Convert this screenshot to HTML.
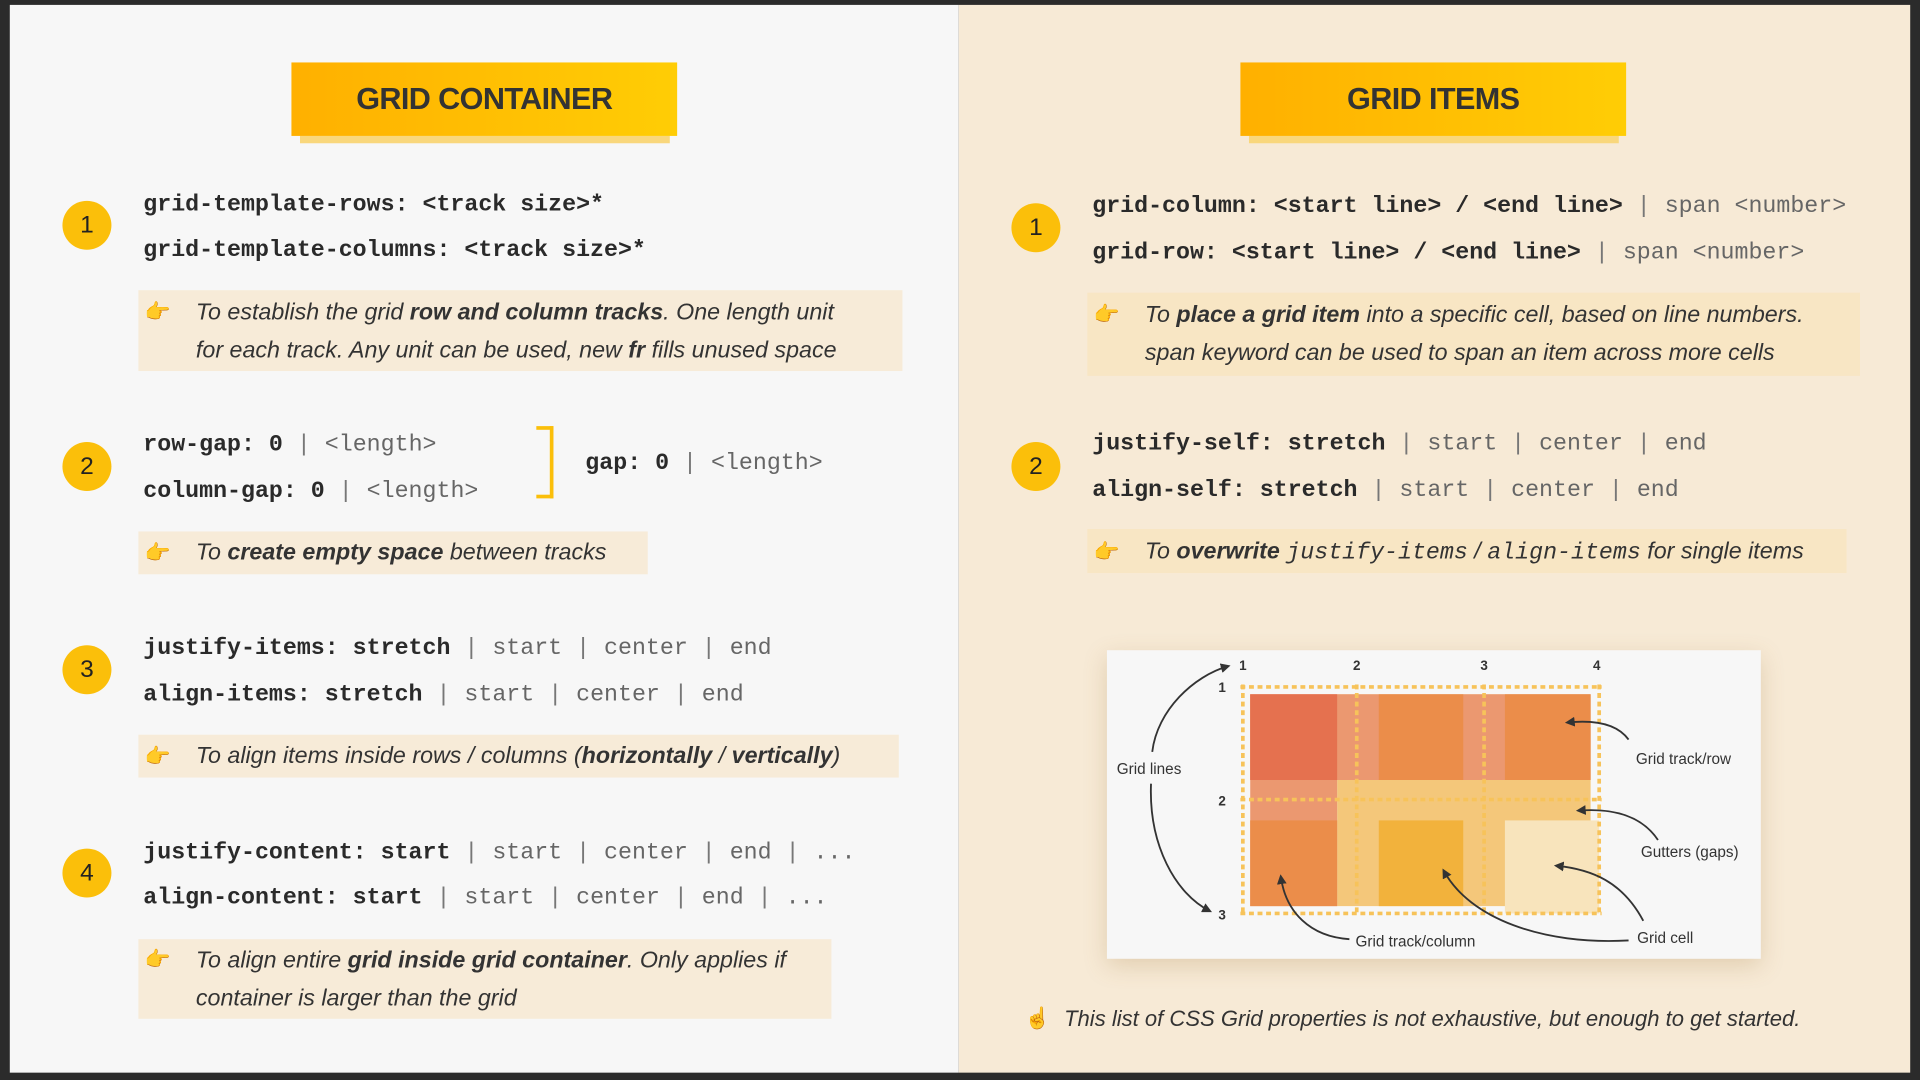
<!DOCTYPE html>
<html><head><meta charset="utf-8"><style>
*{margin:0;padding:0;box-sizing:border-box}
html,body{width:1920px;height:1080px;overflow:hidden;background:#2b2b2b}
#s{position:absolute;left:0;top:0;width:1568px;height:882px;transform:scale(1.22449);transform-origin:0 0;background:#2b2b2b}
.a{position:absolute;white-space:nowrap}
.lp{left:8px;top:4px;width:775px;height:872px;background:#f7f7f7}
.rp{left:783px;top:4px;width:777px;height:872px;background:#f7ead6}
.title{height:60px;width:315px;background:linear-gradient(90deg,#ffb000,#ffcd05);font:bold 25px/60px "Liberation Sans",sans-serif;color:#333;text-align:center;letter-spacing:-0.5px}
.tsh{height:6px;width:302px;background:#f9d77c}
.c{width:40px;height:40px;border-radius:50%;background:#fbbf0a;font:20px/40px "Liberation Sans",sans-serif;color:#222;text-align:center}
.code{font:19px/22px "Liberation Mono",monospace;color:#333}
.code b{font-weight:bold;color:#2a2a2a}
.code i{font-style:normal;color:#666}
.code u{text-decoration:none;color:#777}
.note{background:#f7ebd8}
.rn{background:#f8e6c4}
.nt{font:italic 19px/31px "Liberation Sans",sans-serif;color:#333}
.nt b{font-weight:bold}
.nt tt{font:italic 19px "Liberation Mono",monospace}
.h{font-size:17px;line-height:22px}
</style></head><body><div id="s">
<div class="a lp"></div><div class="a rp"></div>

<div class="a tsh" style="left:245px;top:111px"></div>
<div class="a title" style="left:238px;top:51px">GRID CONTAINER</div>
<div class="a tsh" style="left:1020px;top:111px"></div>
<div class="a title" style="left:1013px;top:51px">GRID ITEMS</div>

<div class="a c" style="left:51px;top:164px">1</div>
<div class="a code" style="left:117px;top:156px"><b>grid-template-rows: &lt;track size&gt;*</b></div>
<div class="a code" style="left:117px;top:193px"><b>grid-template-columns: &lt;track size&gt;*</b></div>
<div class="a note" style="left:113px;top:237px;width:624px;height:66px"></div>
<div class="a h" style="left:118px;top:244px">👉</div>
<div class="a nt" style="left:160px;top:240px">To establish the grid <b>row and column tracks</b>. One length unit<br>for each track. Any unit can be used, new <b>fr</b> fills unused space</div>

<div class="a c" style="left:51px;top:361px">2</div>
<div class="a code" style="left:117px;top:352px"><b>row-gap: 0</b> <u>|</u> <i>&lt;length&gt;</i></div>
<div class="a code" style="left:117px;top:390px"><b>column-gap: 0</b> <u>|</u> <i>&lt;length&gt;</i></div>
<div class="a" style="left:438px;top:348px;width:14px;height:59px;border:3px solid #fbbf0a;border-left:none"></div>
<div class="a code" style="left:478px;top:367px"><b>gap: 0</b> <u>|</u> <i>&lt;length&gt;</i></div>
<div class="a note" style="left:113px;top:434px;width:416px;height:35px"></div>
<div class="a h" style="left:118px;top:441px">👉</div>
<div class="a nt" style="left:160px;top:436px">To <b>create empty space</b> between tracks</div>

<div class="a c" style="left:51px;top:527px">3</div>
<div class="a code" style="left:117px;top:518px"><b>justify-items: stretch</b> <u>|</u> <i>start</i> <u>|</u> <i>center</i> <u>|</u> <i>end</i></div>
<div class="a code" style="left:117px;top:556px"><b>align-items: stretch</b> <u>|</u> <i>start</i> <u>|</u> <i>center</i> <u>|</u> <i>end</i></div>
<div class="a note" style="left:113px;top:600px;width:621px;height:35px"></div>
<div class="a h" style="left:118px;top:607px">👉</div>
<div class="a nt" style="left:160px;top:602px">To align items inside rows / columns (<b>horizontally</b> / <b>vertically</b>)</div>

<div class="a c" style="left:51px;top:693px">4</div>
<div class="a code" style="left:117px;top:685px"><b>justify-content: start</b> <u>|</u> <i>start</i> <u>|</u> <i>center</i> <u>|</u> <i>end</i> <u>|</u> <i>...</i></div>
<div class="a code" style="left:117px;top:722px"><b>align-content: start</b> <u>|</u> <i>start</i> <u>|</u> <i>center</i> <u>|</u> <i>end</i> <u>|</u> <i>...</i></div>
<div class="a note" style="left:113px;top:767px;width:566px;height:65px"></div>
<div class="a h" style="left:118px;top:773px">👉</div>
<div class="a nt" style="left:160px;top:769px">To align entire <b>grid inside grid container</b>. Only applies if<br>container is larger than the grid</div>

<div class="a c" style="left:826px;top:166px">1</div>
<div class="a code" style="left:892px;top:157px"><b>grid-column: &lt;start line&gt; / &lt;end line&gt;</b> <u>|</u> <i>span &lt;number&gt;</i></div>
<div class="a code" style="left:892px;top:195px"><b>grid-row: &lt;start line&gt; / &lt;end line&gt;</b> <u>|</u> <i>span &lt;number&gt;</i></div>
<div class="a rn" style="left:888px;top:239px;width:631px;height:68px"></div>
<div class="a h" style="left:893px;top:246px">👉</div>
<div class="a nt" style="left:935px;top:242px">To <b>place a grid item</b> into a specific cell, based on line numbers.<br>span keyword can be used to span an item across more cells</div>

<div class="a c" style="left:826px;top:361px">2</div>
<div class="a code" style="left:892px;top:351px"><b>justify-self: stretch</b> <u>|</u> <i>start</i> <u>|</u> <i>center</i> <u>|</u> <i>end</i></div>
<div class="a code" style="left:892px;top:389px"><b>align-self: stretch</b> <u>|</u> <i>start</i> <u>|</u> <i>center</i> <u>|</u> <i>end</i></div>
<div class="a rn" style="left:888px;top:432px;width:620px;height:36px"></div>
<div class="a h" style="left:893px;top:440px">👉</div>
<div class="a nt" style="left:935px;top:435px">To <b>overwrite</b> <tt>justify-items</tt> / <tt>align-items</tt> for single items</div>

<div class="a" style="left:904px;top:531px;width:534px;height:252px;background:#f7f7f7;box-shadow:0 6px 18px rgba(160,120,60,0.25)"></div>
<svg class="a" style="left:0;top:0" width="1568" height="882" viewBox="0 0 1568 882">
<defs><marker id="ar" markerWidth="8" markerHeight="8" refX="6" refY="4" orient="auto" markerUnits="userSpaceOnUse"><path d="M0,0 L8,4 L0,8 Z" fill="#333"/></marker></defs>
<rect x="1092" y="567" width="207" height="173" fill="#f4c77a"/>
<rect x="1229" y="670" width="77" height="76" fill="#f8e4bc"/>
<rect x="1021" y="567" width="278" height="70" fill="#eb9870"/>
<rect x="1021" y="567" width="71" height="173" fill="#eb9870"/>
<rect x="1021" y="567" width="71" height="70" fill="#e5714f"/>
<rect x="1126" y="567" width="69" height="70" fill="#eb8d4a"/>
<rect x="1229" y="567" width="70" height="70" fill="#eb8d4a"/>
<rect x="1021" y="670" width="71" height="70" fill="#eb8d4a"/>
<rect x="1126" y="670" width="69" height="70" fill="#f2b23c"/>
<g stroke="#f7c35a" stroke-width="3" stroke-dasharray="4 3" fill="none">
<line x1="1013" y1="561" x2="1308" y2="561"/><line x1="1013" y1="653" x2="1308" y2="653"/><line x1="1013" y1="746" x2="1308" y2="746"/>
<line x1="1015" y1="559" x2="1015" y2="748"/><line x1="1108" y1="559" x2="1108" y2="748"/><line x1="1212" y1="559" x2="1212" y2="748"/><line x1="1306" y1="559" x2="1306" y2="748"/>
</g>
<g font-family="Liberation Sans,sans-serif" font-weight="bold" font-size="11" fill="#333">
<text x="1012" y="547">1</text><text x="1105" y="547">2</text><text x="1209" y="547">3</text><text x="1301" y="547">4</text>
<text x="995" y="565">1</text><text x="995" y="658">2</text><text x="995" y="751">3</text>
</g>
<g font-family="Liberation Sans,sans-serif" font-size="12.5" fill="#333">
<text x="912" y="632">Grid lines</text>
<text x="1336" y="624">Grid track/row</text>
<text x="1340" y="700">Gutters (gaps)</text>
<text x="1337" y="770">Grid cell</text>
<text x="1107" y="773">Grid track/column</text>
</g>
<g stroke="#333" stroke-width="1.5" fill="none" marker-end="url(#ar)">
<path d="M941,614 C945,580 975,552 1003,544"/>
<path d="M940,640 C938,690 960,730 988,744"/>
<path d="M1330,604 C1320,590 1300,588 1280,590"/>
<path d="M1354,686 C1340,665 1315,660 1289,662"/>
<path d="M1342,752 C1325,720 1300,710 1271,707"/>
<path d="M1102,767 C1070,765 1050,745 1046,716"/>
<path d="M1330,768 C1260,772 1200,750 1179,711"/>
</g>
</svg>

<div class="a h" style="left:837px;top:821px">☝️</div>
<div class="a nt" style="left:869px;top:817px;font-size:18px">This list of CSS Grid properties is not exhaustive, but enough to get started.</div>
</div></body></html>
